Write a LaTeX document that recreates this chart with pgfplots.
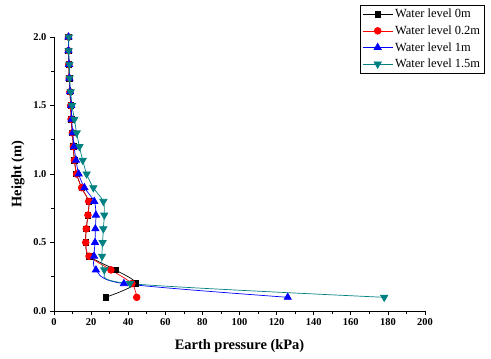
\documentclass[border=0pt]{standalone}
\usepackage{pgfplots}
\pgfplotsset{compat=1.18}
\usepackage{fontspec}
\setmainfont{Liberation Serif}
\definecolor{tealc}{RGB}{0,128,128}
\begin{document}
\begin{tikzpicture}[x=1bp,y=1bp]
\path[use as bounding box] (-54,-47) rectangle (437,311);
\begin{axis}[
  at={(0,0)}, anchor=origin,
  scale only axis, width=371bp, height=274bp,
  xmin=0, xmax=200, ymin=0, ymax=2.0,
  axis x line*=bottom, axis y line*=left,
  axis line style={line width=0.8pt},
  tick align=outside,
  xtick={0,20,...,200}, ytick={0,0.5,1,1.5,2},
  minor x tick num=1, minor y tick num=1,
  major tick length=4bp, minor tick length=2.5bp,
  tick style={black, line width=0.7pt},
  /pgf/number format/assume math mode=true,
  yticklabel style={/pgf/number format/.cd,fixed,fixed zerofill,precision=1},
  ticklabel style={font=\fontsize{10.5}{11}\selectfont\bfseries},
  xlabel={\textbf{Earth pressure (kPa)}},
  ylabel={\textbf{Height (m)}},
  label style={font=\fontsize{14.5}{15}\selectfont},
  xlabel style={yshift=-7bp},
  ylabel style={yshift=2bp},
  legend style={at={(rel axis cs:0.825,1.117)}, anchor=north west,
    font=\fontsize{12.5}{13}\selectfont, draw=black, line width=0.5pt,
    inner xsep=2pt, inner ysep=2pt, row sep=2.5pt, cells={anchor=west}},
  legend cell align=left,
  legend image code/.code={\draw[mark repeat=2,mark phase=2,#1] plot coordinates {(0bp,0bp)(15bp,0bp)(30bp,0bp)};},
  every axis plot/.append style={line width=0.7pt, mark size=3pt, smooth, tension=0.5},
]
\addplot[black, mark=square*, mark options={fill=black}, mark size=2.8pt] coordinates {
(27.9,0.1)(43.8,0.2)(33.1,0.3)(19.0,0.4)(17.1,0.5)(17.4,0.6)(18.3,0.7)(18.7,0.8)(14.9,0.9)(12.2,1.0)(11.0,1.1)(10.4,1.2)(9.9,1.3)(9.2,1.4)(9.0,1.5)(8.6,1.6)(8.2,1.7)(8.0,1.8)(7.8,1.9)(7.8,2.0)};
\addplot[red, mark=*, mark options={fill=red}, mark size=3.4pt] coordinates {
(44.6,0.1)(42.0,0.2)(30.7,0.3)(18.9,0.4)(17.1,0.5)(17.4,0.6)(18.3,0.7)(18.7,0.8)(14.9,0.9)(12.2,1.0)(11.0,1.1)(10.4,1.2)(9.9,1.3)(9.2,1.4)(9.0,1.5)(8.6,1.6)(8.2,1.7)(8.0,1.8)(7.8,1.9)(7.8,2.0)};
\addplot[blue, mark=triangle*, mark options={fill=blue}, mark size=4.2pt] coordinates {
(126,0.1)(37.7,0.2)(22.6,0.3)(21.6,0.4)(22.1,0.5)(22.3,0.6)(22.6,0.7)(21.7,0.8)(16.4,0.9)(13.3,1.0)(11.9,1.1)(10.8,1.2)(10.1,1.3)(9.5,1.4)(9.3,1.5)(8.7,1.6)(8.3,1.7)(8.1,1.8)(7.8,1.9)(7.8,2.0)};
\addplot[tealc, mark=triangle*, mark options={fill=tealc, rotate=180}, mark size=4.2pt] coordinates {
(178,0.1)(41.0,0.2)(27.1,0.3)(25.9,0.4)(26.2,0.5)(26.6,0.6)(27.1,0.7)(26.6,0.8)(21.2,0.9)(17.6,1.0)(15.5,1.1)(13.7,1.2)(12.2,1.3)(11.0,1.4)(9.7,1.5)(9.0,1.6)(8.4,1.7)(8.3,1.8)(7.9,1.9)(8.0,2.0)};
\legend{Water level 0m, Water level 0.2m, Water level 1m, Water level 1.5m}
\end{axis}
\end{tikzpicture}
\end{document}
